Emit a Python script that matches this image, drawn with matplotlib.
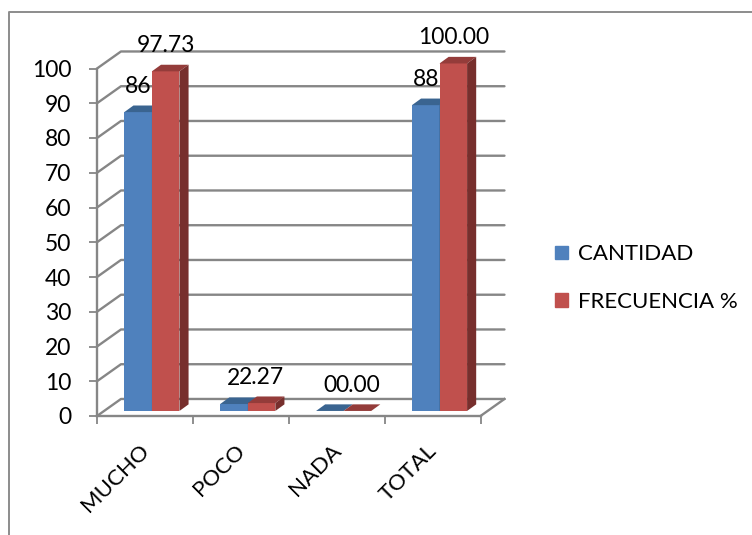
import numpy as np
import matplotlib
matplotlib.use('Agg')
import matplotlib.pyplot as plt
from matplotlib.patches import Patch, Polygon
from matplotlib.lines import Line2D

categorias = ['MUCHO', 'POCO', 'NADA', 'TOTAL']
cantidad = [86, 2, 0, 88]
frecuencia = [97.73, 2.27, 0.00, 100.00]
etiq_cantidad = ['86', '2', '0', '88']
etiq_frecuencia = ['97.73', '2.27', '0.00', '100.00']
yticks = [0, 10, 20, 30, 40, 50, 60, 70, 80, 90, 100]

GRIS = '#868686'
AZUL, AZUL_TOP = '#4f81bd', '#3a6490'
ROJO, ROJO_TOP, ROJO_LADO = '#c0504d', '#943c3a', '#772f2d'

W, H = 752, 535
plt.rcParams['font.family'] = ['Lato', 'DejaVu Sans']

fig = plt.figure(figsize=(W / 100, H / 100), dpi=100)
ax = fig.add_axes([97 / W, 1 - 416 / H, (480.5 - 97) / W, (416 - 68.5) / H])
ax.set_xlim(0, 4)
ax.set_ylim(0, 100)

# profundidad de la caja y de las barras, en unidades de los ejes
caja_dx, caja_dy = 0.25, 4.9
prof_dx, prof_dy = 0.095, 1.9
base = 1.45
ancho = 0.2875
inicio = 0.285

# paredes: lineas de cuadricula en perspectiva
for v in yticks:
    ax.plot([0, caja_dx, 4 + caja_dx], [v, v + caja_dy, v + caja_dy], color=GRIS,
            lw=1.7, clip_on=False, zorder=1, solid_capstyle='round')
ax.plot([4, 4 + caja_dx], [0, caja_dy], color=GRIS, lw=1.7, clip_on=False, zorder=1)


def barra(x, valor, frente, arriba, lado):
    ax.bar(x, valor, ancho, bottom=base, align='edge', color=frente, zorder=3,
           clip_on=False)
    y1 = base + valor
    ax.add_patch(Polygon([(x, y1), (x + prof_dx, y1 + prof_dy),
                          (x + ancho + prof_dx, y1 + prof_dy), (x + ancho, y1)],
                         color=arriba, lw=0, zorder=3, clip_on=False))
    ax.add_patch(Polygon([(x + ancho, base), (x + ancho + prof_dx, base + prof_dy),
                          (x + ancho + prof_dx, y1 + prof_dy), (x + ancho, y1)],
                         color=lado, lw=0, zorder=3, clip_on=False))


for i in range(len(categorias)):
    x0 = i + inicio
    # la azul va primero para que la roja tape su lado
    barra(x0, cantidad[i], AZUL, AZUL_TOP, AZUL_TOP)
    barra(x0 + ancho, frecuencia[i], ROJO, ROJO_TOP, ROJO_LADO)
    # etiquetas de datos encima de cada barra
    ax.annotate(etiq_cantidad[i], (x0 + ancho * 0.5, base + cantidad[i]),
                xytext=(0, 18.5), textcoords='offset points', ha='center', va='center',
                fontsize=16.5, color='black', zorder=5, annotation_clip=False)
    ax.annotate(etiq_frecuencia[i], (x0 + ancho * 1.5, base + frecuencia[i]),
                xytext=(0, 18.5), textcoords='offset points', ha='center', va='center',
                fontsize=16.5, color='black', zorder=5, annotation_clip=False)

for lado in ['top', 'right']:
    ax.spines[lado].set_visible(False)
for lado in ['left', 'bottom']:
    ax.spines[lado].set_color(GRIS)
    ax.spines[lado].set_linewidth(1.7)
    ax.spines[lado].set_zorder(2)
ax.patch.set_visible(False)

ax.set_yticks(yticks)
ax.set_xticks(range(5))
ax.set_xticklabels([])
ax.set_xticks(np.arange(4) + 0.44, categorias, minor=True, rotation=45, ha='right',
              rotation_mode='anchor', fontsize=16)
ax.tick_params(axis='both', which='major', color=GRIS, width=1.3, length=6, labelsize=16.5,
               pad=12.5)
ax.tick_params(axis='x', which='minor', length=0, pad=17.5)

# leyenda a la derecha
mano = [Patch(color=AZUL), Patch(color=ROJO)]
fig.legend(mano, ['CANTIDAD', 'FRECUENCIA %'], loc='center left',
           bbox_to_anchor=(551 / W, 1 - 278 / H), frameon=False, fontsize=16,
           handlelength=0.55, handleheight=0.55, handletextpad=0.45, labelspacing=1.25,
           borderaxespad=0, borderpad=0.2)

# marco del grafico, abierto por la derecha y por abajo
fig.add_artist(Line2D([9 / W, 9 / W, 1], [0, 1 - 12 / H, 1 - 12 / H], color='#8c8c8c', lw=1.4,
                      transform=fig.transFigure))

fig.savefig('out.png', dpi=100)
